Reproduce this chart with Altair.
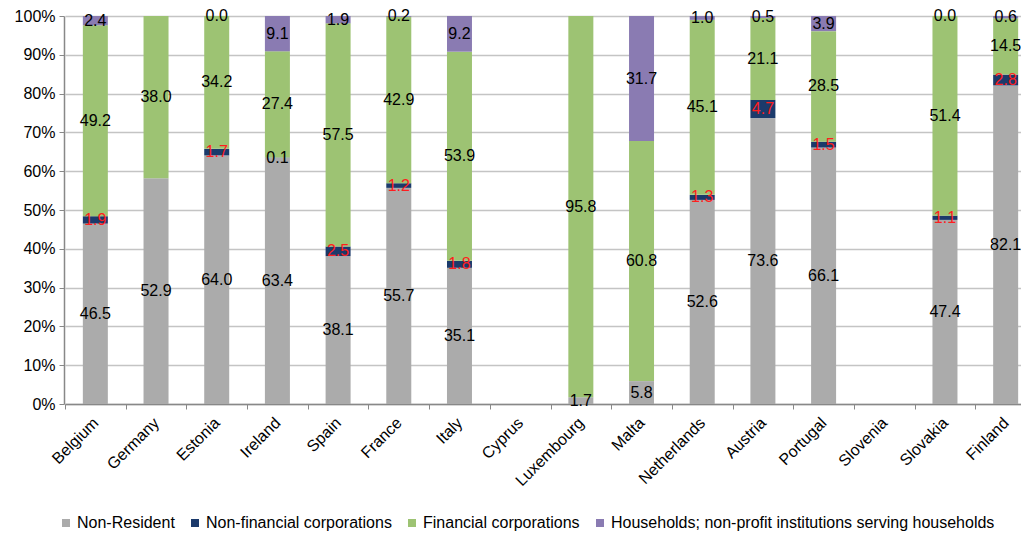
import altair as alt
import pandas as pd

countries = ["Belgium", "Germany", "Estonia", "Ireland", "Spain", "France", "Italy", "Cyprus",
             "Luxembourg", "Malta", "Netherlands", "Austria", "Portugal", "Slovenia", "Slovakia", "Finland"]
series_names = ["Non-Resident", "Non-financial corporations", "Financial corporations",
                "Households; non-profit institutions serving households"]

non_resident = [46.5, 52.9, 64.0, 63.4, 38.1, 55.7, 35.1, None, 1.7, 5.8, 52.6, 73.6, 66.1, None, 47.4, 82.1]
non_financial = [1.9, None, 1.7, 0.1, 2.5, 1.2, 1.8, None, None, None, 1.3, 4.7, 1.5, None, 1.1, 2.8]
financial = [49.2, 38.0, 34.2, 27.4, 57.5, 42.9, 53.9, None, 95.8, 60.8, 45.1, 21.1, 28.5, None, 51.4, 14.5]
households = [2.4, None, 0.0, 9.1, 1.9, 0.2, 9.2, None, None, 31.7, 1.0, 0.5, 3.9, None, 0.0, 0.6]

colors = ["#ABABAB", "#1B3A6B", "#9DC373", "#8A7BB2"]

rows = []
for si, (name, vals) in enumerate(zip(series_names, [non_resident, non_financial, financial, households])):
    for c, v in zip(countries, vals):
        if v is not None:
            rows.append({"country": c, "series": name, "idx": si, "value": v})
df = pd.DataFrame(rows)

FONT = "Liberation Sans"

base = alt.Chart(df).transform_stack(
    stack="value",
    groupby=["country"],
    as_=["v0", "v1"],
    offset="normalize",
    sort=[alt.SortField("idx", order="ascending")],
).transform_calculate(mid="(datum.v0 + datum.v1) / 2")

x_axis = alt.Axis(
    title=None,
    labelAngle=-45,
    labelAlign="right",
    labelBaseline="middle",
    labelFontSize=16,
    labelFont=FONT,
    labelColor="#000000",
    labelPadding=11,
    tickBand="extent",
    tickSize=5,
    tickColor="#888888",
    domainColor="#888888",
    domainWidth=1.5,
    grid=False,
)
y_axis = alt.Axis(
    title=None,
    format=".0%",
    values=[i / 10 for i in range(11)],
    labelOverlap=False,
    labelFontSize=16,
    labelFont=FONT,
    labelColor="#000000",
    tickSize=5,
    tickColor="#888888",
    domainColor="#888888",
    domainWidth=1.5,
    gridColor="#C4C4C4",
    gridWidth=1.5,
    labelPadding=4,
)
x_scale = alt.Scale(domain=countries, range=[1, 972], paddingInner=0, paddingOuter=0)
y_scale = alt.Scale(domain=[0, 1])

bars = base.mark_bar(size=25).encode(
    x=alt.X("country:N", sort=countries, scale=x_scale, axis=x_axis),
    y=alt.Y("v0:Q", scale=y_scale, axis=y_axis),
    y2="v1:Q",
    color=alt.Color(
        "series:N",
        scale=alt.Scale(domain=series_names, range=colors),
        legend=alt.Legend(
            title=None,
            orient="none",
            legendX=-6,
            legendY=499,
            direction="horizontal",
            columns=4,
            symbolType="square",
            symbolSize=64,
            symbolStrokeWidth=0,
            labelFontSize=16,
            labelFont=FONT,
            labelColor="#000000",
            labelLimit=0,
            labelOffset=3,
            columnPadding=12,
        ),
    ),
)

texts = base.mark_text(fontSize=16, font=FONT, baseline="middle", align="center").encode(
    x=alt.X("country:N", sort=countries, scale=x_scale, axis=x_axis),
    y=alt.Y("mid:Q", scale=y_scale, axis=y_axis),
    text=alt.Text("value:Q", format=".1f"),
    color=alt.condition(
        "datum.series == 'Non-financial corporations' && datum.value >= 1",
        alt.value("#FF1E1E"),
        alt.value("#000000"),
    ),
)

chart = alt.layer(bars, texts).properties(
    width=957,
    height=388,
    autosize=alt.AutoSizeParams(type="none"),
    padding={"left": 56, "top": 8, "right": 0, "bottom": 128},
).configure_view(stroke=None)

chart.save("out.html", embed_options={"renderer": "svg", "actions": False})
